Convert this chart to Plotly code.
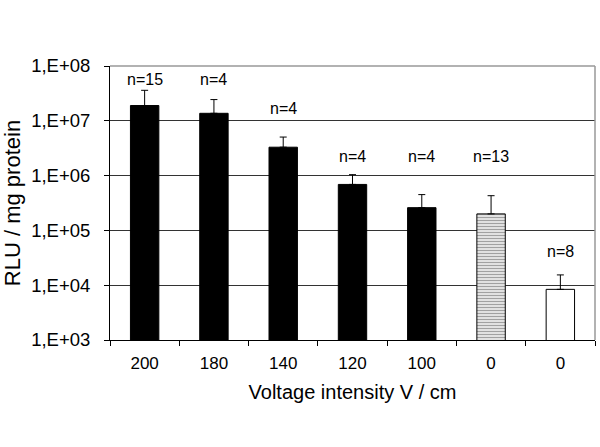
import plotly.graph_objects as go

# ---- data ----
categories = ["200", "180", "140", "120", "100", "0", "0"]
means = [1.9e7, 1.37e7, 3.3e6, 6.9e5, 2.6e5, 2.0e5, 8.4e3]
sd_upper = [1.7e7, 1.07e7, 1.75e6, 3.5e5, 1.9e5, 2.3e5, 7.0e3]
n_labels = ["n=15", "n=4", "n=4", "n=4", "n=4", "n=13", "n=8"]
y_ticks = [1e3, 1e4, 1e5, 1e6, 1e7, 1e8]
y_tick_text = ["1,E+03", "1,E+04", "1,E+05", "1,E+06", "1,E+07", "1,E+08"]

# ---- styling (not data) ----
label_log_y = [7.76, 7.76, 7.22, 6.34, 6.34, 6.34, 4.61]
bar_colors = ["black", "black", "black", "black", "black", "white", "white"]
pattern_shapes = ["", "", "", "", "", "-", ""]

FONT = "Arial, Liberation Sans, sans-serif"
xpos = list(range(len(categories)))

fig = go.Figure()
fig.add_trace(go.Bar(
    x=xpos, y=means,
    width=0.41,
    marker=dict(
        color=bar_colors,
        line=dict(color="black", width=1),
        pattern=dict(shape=pattern_shapes, fgcolor="black", bgcolor="white",
                     size=3, solidity=0.55),
    ),
    error_y=dict(type="data", symmetric=False, array=sd_upper,
                 arrayminus=[0] * len(means), color="black",
                 thickness=1, width=3.5),
    showlegend=False,
))

for i, (t, ly) in enumerate(zip(n_labels, label_log_y)):
    fig.add_annotation(x=i, y=ly, text=t, showarrow=False, xref="x", yref="y",
                       font=dict(family=FONT, size=16, color="black"))

# dummy trace to activate the boundary-tick axis
fig.add_trace(go.Scatter(x=[-0.5], y=[1e3], xaxis="x2", mode="markers",
                         marker=dict(opacity=0), showlegend=False, hoverinfo="skip"))

fig.update_layout(
    width=600, height=447,
    margin=dict(l=110, r=5, t=66, b=107),
    paper_bgcolor="white", plot_bgcolor="white",
    font=dict(family=FONT, color="black"),
    xaxis=dict(
        range=[-0.5, len(categories) - 0.5],
        tickmode="array", tickvals=xpos, ticktext=categories,
        ticks="", showgrid=False, zeroline=False,
        showline=True, linecolor="black", linewidth=1,
        tickfont=dict(size=17, family=FONT),
        ticklabelstandoff=8,
        title=dict(text="Voltage intensity V / cm", font=dict(size=20, family=FONT), standoff=12),
    ),
    xaxis2=dict(
        overlaying="x", side="bottom", anchor="y",
        range=[-0.5, len(categories) - 0.5],
        tickmode="array", tickvals=[i - 0.5 for i in range(len(categories) + 1)],
        ticktext=[""] * (len(categories) + 1),
        ticks="outside", ticklen=5, tickcolor="black", tickwidth=1,
        showgrid=False, zeroline=False, showline=False,
    ),
    yaxis=dict(
        type="log", range=[3, 8],
        tickmode="array", tickvals=y_ticks, ticktext=y_tick_text,
        ticks="outside", ticklen=5, tickcolor="black", tickwidth=1,
        showgrid=True, gridcolor="#333333", gridwidth=1,
        showline=True, linecolor="black", linewidth=1,
        zeroline=False,
        tickfont=dict(size=18.5, family=FONT),
        ticklabelstandoff=10,
        title=dict(text="RLU / mg protein", font=dict(size=22, family=FONT), standoff=5),
    ),
    bargap=0.59,
)

# gray frame on top and right of the plot area
fig.add_shape(type="line", xref="paper", yref="paper", x0=0, x1=1, y0=1, y1=1,
              line=dict(color="#999999", width=1.5))
fig.add_shape(type="line", xref="paper", yref="paper", x0=1, x1=1, y0=0, y1=1,
              line=dict(color="#999999", width=1.5))

fig.write_html("out.html", config={"displayModeBar": False},
               post_script="document.body.style.margin='0';")
